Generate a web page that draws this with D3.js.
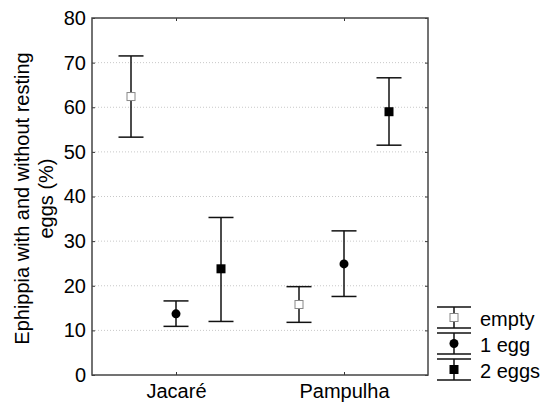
<!DOCTYPE html>
<html>
<head>
<meta charset="utf-8">
<script src="https://cdn.jsdelivr.net/npm/d3@7"></script>
<style>
  body { margin: 0; background: #fff; }
  svg { font-family: "Liberation Sans", Arial, sans-serif; }
</style>
</head>
<body>
<script>
const sites = ["Jacaré", "Pampulha"];
const series = ["empty", "1 egg", "2 eggs"];
// mean, lower, upper per site, per series
const emptyMean = [62.4, 15.8];
const emptyLow = [53.3, 11.8];
const emptyHigh = [71.5, 19.8];
const oneMean = [13.7, 24.9];
const oneLow = [10.9, 17.6];
const oneHigh = [16.6, 32.3];
const twoMean = [23.8, 59.0];
const twoLow = [12.0, 51.5];
const twoHigh = [35.3, 66.6];
const yTicks = [0, 10, 20, 30, 40, 50, 60, 70, 80];

const width = 544, height = 403;
const margin = { left: 92, right: 116, top: 18, bottom: 28 };
const fs = 20;

const svg = d3.select("body").append("svg")
  .attr("width", width).attr("height", height);

const x = d3.scalePoint().domain(sites).range([margin.left, width - margin.right]).padding(0.5);
const y = d3.scaleLinear().domain([0, 80]).range([height - margin.bottom, margin.top]);
const offset = d3.scalePoint().domain(series).range([-45, 45]);

const data = [];
sites.forEach((s, i) => {
  data.push({ site: s, series: "empty", m: emptyMean[i], lo: emptyLow[i], hi: emptyHigh[i] });
  data.push({ site: s, series: "1 egg", m: oneMean[i], lo: oneLow[i], hi: oneHigh[i] });
  data.push({ site: s, series: "2 eggs", m: twoMean[i], lo: twoLow[i], hi: twoHigh[i] });
});

const x0 = margin.left, x1 = width - margin.right;
const y0 = y(0), y1 = y(80);

// grid
svg.append("g").selectAll("line")
  .data(yTicks.filter(d => d > 0 && d < 80))
  .join("line")
  .attr("x1", x0).attr("x2", x1)
  .attr("y1", d => y(d)).attr("y2", d => y(d))
  .attr("stroke", "#c8c8c8").attr("stroke-width", 1)
  .attr("stroke-dasharray", "1,2");

// axes with inward ticks
const axisStyle = g => {
  g.select(".domain").remove();
  g.selectAll(".tick line").attr("stroke", "#333");
  g.selectAll("text").attr("fill", "#000").attr("font-size", fs);
};
svg.append("g").attr("transform", `translate(${x0},0)`)
  .call(d3.axisLeft(y).tickValues(yTicks).tickSize(-3).tickPadding(6))
  .call(axisStyle);
svg.append("g").attr("transform", `translate(${x1},0)`)
  .call(d3.axisRight(y).tickValues(yTicks).tickSize(-3).tickFormat(""))
  .call(axisStyle);
svg.append("g").attr("transform", `translate(0,${y0})`)
  .call(d3.axisBottom(x).tickSize(-3).tickPadding(9))
  .call(axisStyle);
svg.append("g").attr("transform", `translate(0,${y1})`)
  .call(d3.axisTop(x).tickSize(-3).tickFormat(""))
  .call(axisStyle);

svg.append("rect")
  .attr("x", x0).attr("y", y1).attr("width", x1 - x0).attr("height", y0 - y1)
  .attr("fill", "none").attr("stroke", "#444").attr("stroke-width", 1.5);

// y label
const label = svg.append("text")
  .attr("transform", `translate(29,${(y0 + y1) / 2 + 2}) rotate(-90)`)
  .attr("text-anchor", "middle").attr("font-size", fs).attr("fill", "#000");
label.append("tspan").attr("x", 0).attr("dy", 0).text("Ephippia with and without resting");
label.append("tspan").attr("x", 0).attr("dy", 24).text("eggs (%)");

function marker(g, s) {
  if (s === "empty") {
    g.append("rect").attr("x", -4).attr("y", -4).attr("width", 8).attr("height", 8)
      .attr("fill", "#fff").attr("stroke", "#888").attr("stroke-width", 1);
  } else if (s === "1 egg") {
    g.append("circle").attr("r", 4.5).attr("fill", "#000");
  } else {
    g.append("rect").attr("x", -4.5).attr("y", -4.5).attr("width", 9).attr("height", 9)
      .attr("fill", "#000");
  }
}

const cap = 12.5;
const pts = svg.append("g").selectAll("g")
  .data(data).join("g")
  .attr("transform", d => `translate(${x(d.site) + offset(d.series)},0)`);
pts.append("line").attr("x1", 0).attr("x2", 0)
  .attr("y1", d => y(d.lo)).attr("y2", d => y(d.hi))
  .attr("stroke", "#111").attr("stroke-width", 1.5);
pts.append("line").attr("x1", -cap).attr("x2", cap)
  .attr("y1", d => y(d.hi)).attr("y2", d => y(d.hi))
  .attr("stroke", "#111").attr("stroke-width", 1.5);
pts.append("line").attr("x1", -cap).attr("x2", cap)
  .attr("y1", d => y(d.lo)).attr("y2", d => y(d.lo))
  .attr("stroke", "#111").attr("stroke-width", 1.5);
pts.each(function (d) {
  const g = d3.select(this).append("g").attr("transform", `translate(0,${y(d.m)})`);
  marker(g, d.series);
});

// legend
const legend = svg.append("g").attr("transform", "translate(454,307)");
const items = legend.selectAll("g").data(series).join("g")
  .attr("transform", (d, i) => `translate(0,${i * 26})`);
items.append("line").attr("x1", 0).attr("x2", 0).attr("y1", 0).attr("y2", 21)
  .attr("stroke", "#111").attr("stroke-width", 1.5);
items.append("line").attr("x1", -17).attr("x2", 17).attr("y1", 0).attr("y2", 0)
  .attr("stroke", "#111").attr("stroke-width", 1.5);
items.append("line").attr("x1", -17).attr("x2", 17).attr("y1", 21).attr("y2", 21)
  .attr("stroke", "#111").attr("stroke-width", 1.5);
items.each(function (d) {
  marker(d3.select(this).append("g").attr("transform", "translate(0,10.5)"), d);
});
items.append("text").attr("x", 26).attr("y", 12).attr("dy", "0.35em")
  .attr("font-size", fs).attr("fill", "#000").text(d => d);
</script>
</body>
</html>
